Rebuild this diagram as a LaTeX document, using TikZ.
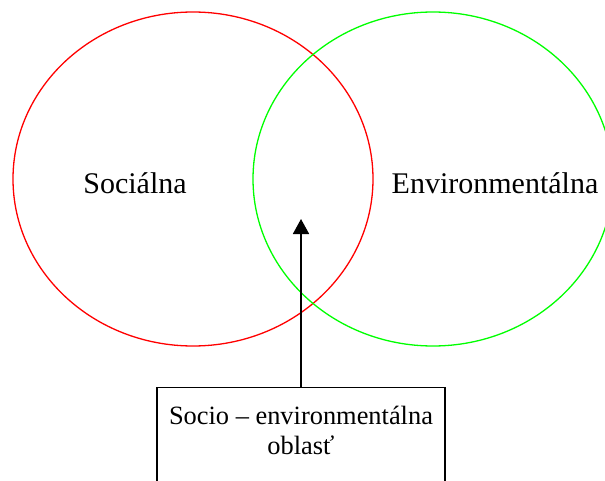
\documentclass[tikz,border=0pt]{standalone}
\usepackage{fontspec}
\setmainfont{Liberation Serif}
\usepackage{tikz}
\usetikzlibrary{arrows.meta}

\begin{document}
\begin{tikzpicture}[x=0.5pt,y=0.5pt,yscale=-1,xscale=1,
  area/.style={line width=0.65pt},
  biglabel/.style={anchor=base,inner sep=0.75pt,font=\fontsize{15}{18}\selectfont},
  boxlabel/.style={anchor=base,inner sep=0.75pt,align=center,font=\fontsize{13.2}{15}\selectfont}]
\useasboundingbox (0,0) rectangle (605,481);
\clip (0,0) rectangle (605,481);
% the two areas
\draw [area] [draw={rgb, 255:red, 255; green, 0; blue, 0 }] (193,179) ellipse (180 and 167);
\draw [area] [draw={rgb, 255:red, 0; green, 255; blue, 0 }] (433,179) ellipse (180 and 167);
\draw (135,193) node [biglabel] (soc) {Sociálna};
\draw (495,193) node [biglabel] (env) {Environmentálna};
% overlap box and arrow
\node (box) [draw,anchor=north,inner sep=0pt,line width=0.55pt,minimum width=144pt,minimum height=60pt] at (301,387) {};
\draw (301,454) node [boxlabel] (boxtxt) {Socio – environmentálna\\oblasť};
\coordinate (tip) at (301,219);
\draw [-{Triangle[width=8pt,length=7.5pt]},line width=0.85pt] (box.north) -- (tip);
\end{tikzpicture}
\end{document}
